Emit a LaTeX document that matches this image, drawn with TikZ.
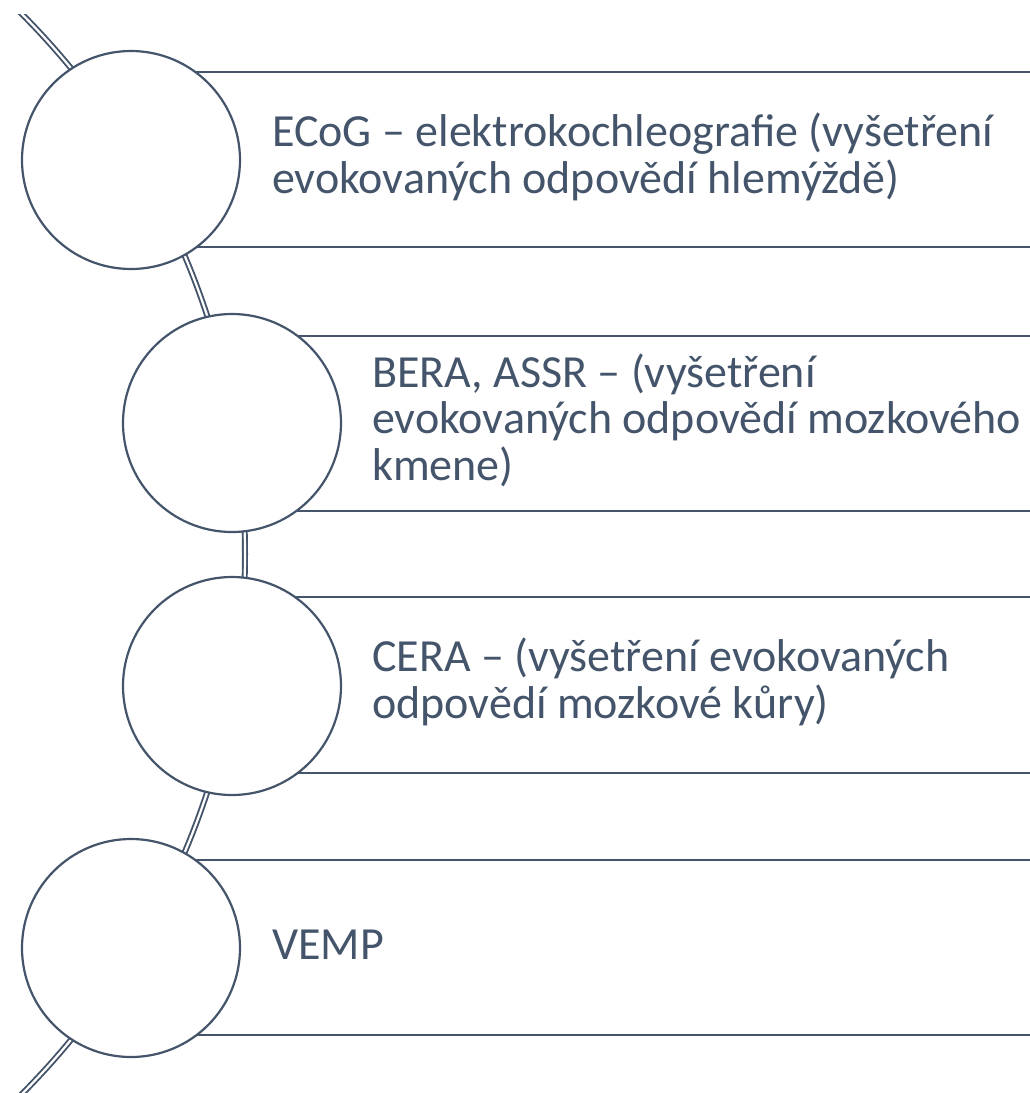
\documentclass[tikz,border=0pt]{standalone}
\usepackage{fontspec}
\setmainfont{Carlito}
\definecolor{slate}{HTML}{44546A}
\begin{document}
\begin{tikzpicture}[x=1pt,y=-1pt,
  circ/.style={circle,draw=slate,fill=white,line width=2.2pt,minimum size=218pt,inner sep=0pt},
  rule/.style={draw=slate,line width=2.4pt},
  arcline/.style={draw=slate,line width=1.9pt,double=white,double distance=2.2pt},
  txt/.style={anchor=base west,text=slate,align=left,inner sep=0pt,font=\fontsize{46}{46.5}\selectfont}]
\useasboundingbox (0,0) rectangle (1030,1093);
% background arc
\begin{scope}
  \clip (0,14) rectangle (1030,1093);
  \draw[arcline] (-520,554) circle[radius=765pt];
\end{scope}
% rules
\coordinate (a1) at (131,72);   \coordinate (b1) at (1030,72);
\coordinate (a2) at (131,247);  \coordinate (b2) at (1030,247);
\coordinate (a3) at (232,336);  \coordinate (b3) at (1030,336);
\coordinate (a4) at (232,511);  \coordinate (b4) at (1030,511);
\coordinate (a5) at (232,597);  \coordinate (b5) at (1030,597);
\coordinate (a6) at (232,773);  \coordinate (b6) at (1030,773);
\coordinate (a7) at (131,860);  \coordinate (b7) at (1030,860);
\coordinate (a8) at (131,1035); \coordinate (b8) at (1030,1035);
\foreach \i in {1,...,8} \draw[rule] (a\i) -- (b\i);
% circles
\node[circ] (c1) at (131,160) {};
\node[circ] (c2) at (232,423) {};
\node[circ] (c3) at (232,686) {};
\node[circ] (c4) at (131,948) {};
% texts (anchored at the baseline of the last line)
\node[txt] (t1) at (272,193) {ECoG – elektrokochleografie (vyšetření\\evokovaných odpovědí hlemýždě)};
\node[txt] (t2) at (372,480) {BERA, ASSR – (vyšetření\\evokovaných odpovědí mozkového\\kmene)};
\node[txt] (t3) at (372,718) {CERA – (vyšetření evokovaných\\odpovědí mozkové kůry)};
\node[txt] (t4) at (272,959) {VEMP};
\end{tikzpicture}
\end{document}
